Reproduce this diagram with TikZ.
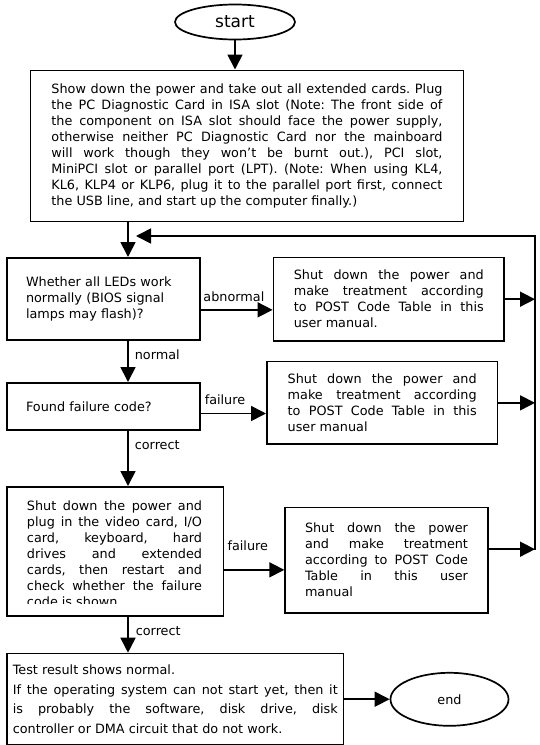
\documentclass[tikz,border=0pt]{standalone}
\usepackage{fontspec}
\setmainfont{DejaVu Sans}
\usepackage{tikz}
\usetikzlibrary{arrows.meta}
\usetikzlibrary{shapes.geometric}
\frenchspacing

\begin{document}
\begin{tikzpicture}[x=1pt, y=-1pt, every node/.style={font=\fontsize{12.8}{16}\selectfont},
    box/.style={draw, line width=1.7pt, anchor=north west, inner sep=0pt},
    term/.style={draw, ellipse, line width=1.7pt, inner sep=0pt},
    arr/.style={line width=1.7pt, -{Triangle[length=15pt,width=15pt]}},
    lbl/.style={inner sep=0pt}]
            \useasboundingbox (0,0) rectangle (539,745);
            \coordinate (sp) at (128,0);
            \coordinate (rt) at (535,236);
            \coordinate (rb) at (535,550);
            \coordinate (fb) at (136,236);
            \node[term, minimum width=120pt, minimum height=35pt, font=\fontsize{17}{20}\selectfont] (start) at (235,22) {start};
            \node[box, minimum width=433pt, minimum height=151pt, text width=391pt, align=justify] (b1) at (29.6,69.5)
               {Show down the power and take out all extended cards. Plug\linebreak
                the PC Diagnostic Card in ISA slot (Note: The front side of\linebreak
                the component on ISA slot should face the power supply,\linebreak
                otherwise neither PC Diagnostic Card nor the mainboard\linebreak
                will work though they won't be burnt out.), PCI slot,\linebreak
                MiniPCI slot or parallel port (LPT). (Note: When using KL4,\linebreak
                KL6, KLP4 or KLP6, plug it to the parallel port first, connect\linebreak
                the USB line, and start up the computer finally.)};
            \node[box, minimum width=193pt, minimum height=82pt, text width=155pt, align=left] (b2) at (6.2,257)
               {Whether all LEDs work\\ normally (BIOS signal\\ lamps may flash)?};
            \node[box, minimum width=230.7pt, minimum height=83.3pt, text width=190pt, align=justify] (b3) at (272.6,256.7)
               {Shut down the power and\linebreak make treatment according\linebreak to POST Code Table in this\linebreak user manual.};
            \node[box, minimum width=193pt, minimum height=47.3pt, text width=155pt, align=left] (b4) at (6.2,382)
               {Found failure code?};
            \node[box, minimum width=230.7pt, minimum height=82.6pt, text width=189pt, align=justify] (b5) at (266,360.7)
               {Shut down the power and\linebreak make treatment according\linebreak to POST Code Table in this\linebreak user manual};
            \node[box, minimum width=216.5pt, minimum height=129pt] (b6) at (6.2,486) {};
            \begin{scope}
              \clip (6.2,486) rectangle (222.7,603.5);
              \node[text width=175pt, align=justify, inner sep=0pt] (b6t) at (114.5,554)
                 {Shut down the power and\linebreak plug in the video card, I/O\linebreak card, keyboard, hard\linebreak
                  drives and extended\linebreak cards, then restart and\linebreak check whether the failure\linebreak code is shown.};
            \end{scope}
            \node[box, minimum width=202.7pt, minimum height=105.3pt, text width=163pt, align=justify] (b7) at (284.3,506.7)
               {Shut down the power\linebreak and make treatment\linebreak according to POST Code\linebreak Table in this user\linebreak manual};
            \node[box, minimum width=336.5pt, minimum height=91.3pt, text width=325pt, align=justify, font=\fontsize{12.8}{19.5}\selectfont] (b8) at (6.2,652.7)
               {Test result shows normal.\\
                If the operating system can not start yet, then it\linebreak
                is probably the software, disk drive, disk\linebreak
                controller or DMA circuit that do not work.};
            \node[term, minimum width=118pt, minimum height=53pt] (end) at (449.5,699.3) {end};
            \draw[arr] (start.south) -- (start.south |- b1.north);
            \draw[arr] (b1.south -| sp) -- (b2.north -| sp);
            \draw[arr] ([yshift=-11pt]b2.east) -- node[lbl, above=7.3pt, pos=.46] (l1) {abnormal} ([yshift=-11pt]b2.east -| b3.west);
            \draw[arr] (b2.south -| sp) -- node[lbl, right=6pt, pos=.33] (l2) {normal} (b4.north -| sp);
            \draw[arr] ([yshift=-7pt]b4.east) -- node[lbl, above=7.5pt, pos=.37] (l3) {failure} ([yshift=-7pt]b4.east -| b5.west);
            \draw[arr] (b4.south -| sp) -- node[lbl, right=6pt, pos=.26] (l4) {correct} (b6.north -| sp);
            \draw[arr] ([yshift=-18.5pt]b6.east) -- node[lbl, above=18pt, pos=.39] (l5) {failure} ([yshift=-18.5pt]b6.east -| b7.west);
            \draw[arr] (b6.south -| sp) -- node[lbl, right=7pt, pos=.4] (l6) {correct} (b8.north -| sp);
            \draw[arr] (b8.east) -- (b8.east -| end.west);
            \draw[arr] (b3.east) -- (b3.east -| rt);
            \draw[arr] (b5.east) -- (b5.east -| rt);
            \draw[arr] ([yshift=11pt]b7.east) -- ([yshift=11pt]b7.east -| rt);
            \draw[arr] (rb) -- (rt) -- (fb);
        \end{tikzpicture}
\end{document}
